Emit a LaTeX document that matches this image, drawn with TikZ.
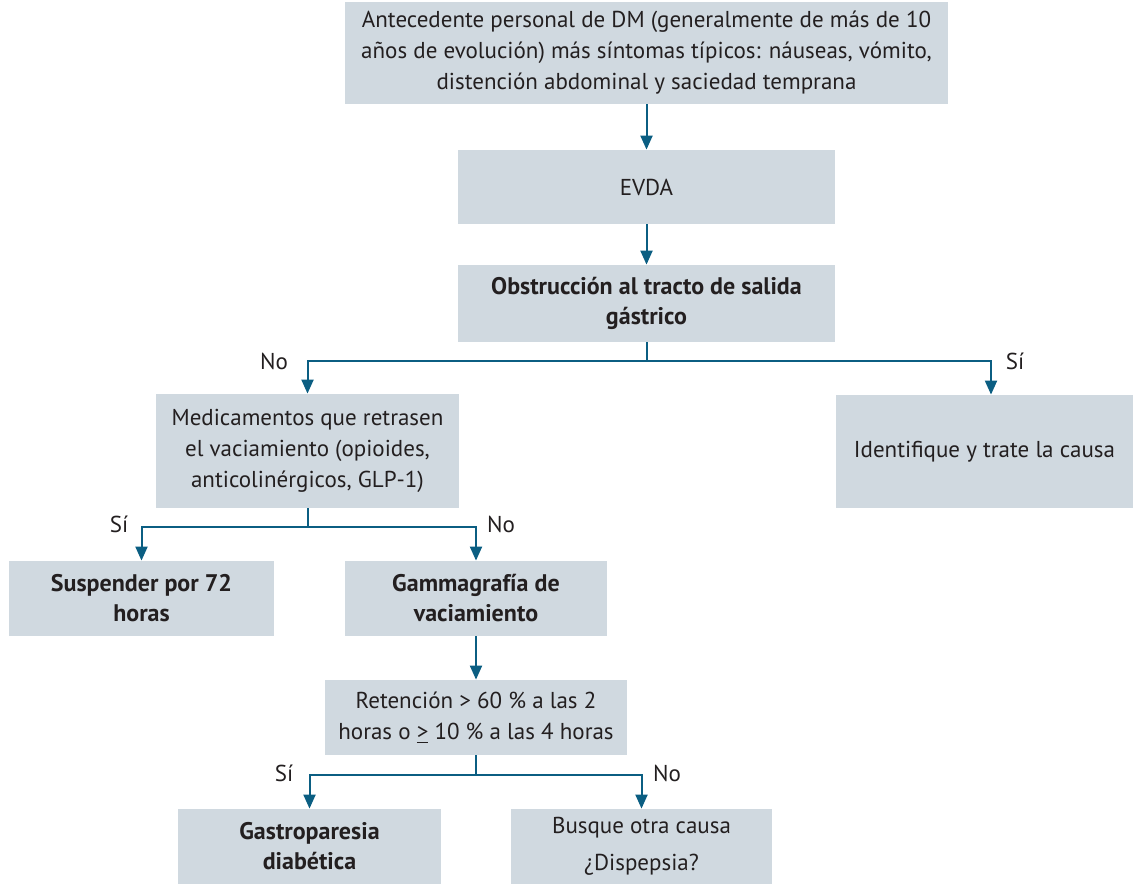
\documentclass[tikz,border=0pt]{standalone}
\usepackage{fontspec}
\setmainfont{PT Sans}
\usepackage{tikz}
\usetikzlibrary{arrows.meta,positioning}
\definecolor{boxc}{HTML}{D0D9E0}
\definecolor{linec}{HTML}{0B5E82}
\definecolor{txtc}{HTML}{231F20}
\tikzset{
  ar/.style={-{Triangle[length=7pt,width=6pt]},line width=1pt,linec},
  box/.style={fill=boxc,align=center,inner sep=2pt,text=txtc,font=\fontsize{11.5}{15.5}\selectfont},
  bbox/.style={box,font=\fontsize{12}{15}\selectfont\bfseries},
  lbl/.style={text=txtc,font=\fontsize{11.5}{15.5}\selectfont}
}

\begin{document}
\begin{tikzpicture}[x=0.5pt,y=0.5pt]
\useasboundingbox (0,0) rectangle (1133,-884);
% boxes
\node[box,minimum width=301.5pt,minimum height=51pt] (ant) at (646.5,-53) {Antecedente personal de DM (generalmente de más de 10\\años de evolución) más síntomas típicos: náuseas, vómito,\\distención abdominal y saciedad temprana};
\node[box,minimum width=188.5pt,minimum height=37pt] (evda) at (646.5,-187) {EVDA};
\node[bbox,minimum width=188.5pt,minimum height=38.5pt] (obs) at (646.5,-303.5) {Obstrucción al tracto de salida\\gástrico};
\node[box,minimum width=151.5pt,minimum height=57pt] (med) at (307.5,-451) {Medicamentos que retrasen\\el vaciamiento (opioides,\\anticolinérgicos, GLP-1)};
\node[box,minimum width=148.5pt,minimum height=56.5pt] (idt) at (984.5,-451.5) {Identifique y trate la causa};
\node[bbox,minimum width=132.5pt,minimum height=37.5pt] (sus) at (141.5,-598.5) {Suspender por 72\\horas};
\node[bbox,minimum width=131pt,minimum height=37.5pt] (gam) at (476,-598.5) {Gammagrafía de\\vaciamiento};
\node[box,minimum width=151pt,minimum height=37.5pt] (ret) at (476,-717.5) {Retención > 60~\% a las 2\\horas o \underline{>} 10~\% a las 4 horas};
\node[bbox,minimum width=131.5pt,minimum height=37.5pt] (gas) at (309.5,-846.5) {Gastroparesia\\diabética};
\node[box,minimum width=130.5pt,minimum height=37.5pt] (bus) at (641.5,-846.5) {Busque otra causa\\[3pt]¿Dispepsia?};
% connectors
\draw[ar] (ant.south) -- (evda.north);
\draw[ar] (evda.south) -- (obs.north);
\draw[ar] (obs.south) -- ++(0,-19) -| (med.north);
\draw[ar] (obs.south) -- ++(0,-19) -| ([xshift=3.25pt]idt.north);
\draw[ar] (med.south) -- ++(0,-19) -| (sus.north);
\draw[ar] (med.south) -- ++(0,-19) -| (gam.north);
\draw[ar] (gam.south) -- (ret.north);
\draw[ar] (ret.south) -- ++(0,-20) -| (gas.north);
\draw[ar] (ret.south) -- ++(0,-20) -| (bus.north);
% labels
\node[lbl] (no1) at (274,-361) {No};
\node[lbl] (si1) at (1015,-361) {Sí};
\node[lbl] (si2) at (119,-524) {Sí};
\node[lbl] (no2) at (501,-524) {No};
\node[lbl] (si3) at (284,-773) {Sí};
\node[lbl] (no3) at (667,-773) {No};
\end{tikzpicture}
\end{document}
